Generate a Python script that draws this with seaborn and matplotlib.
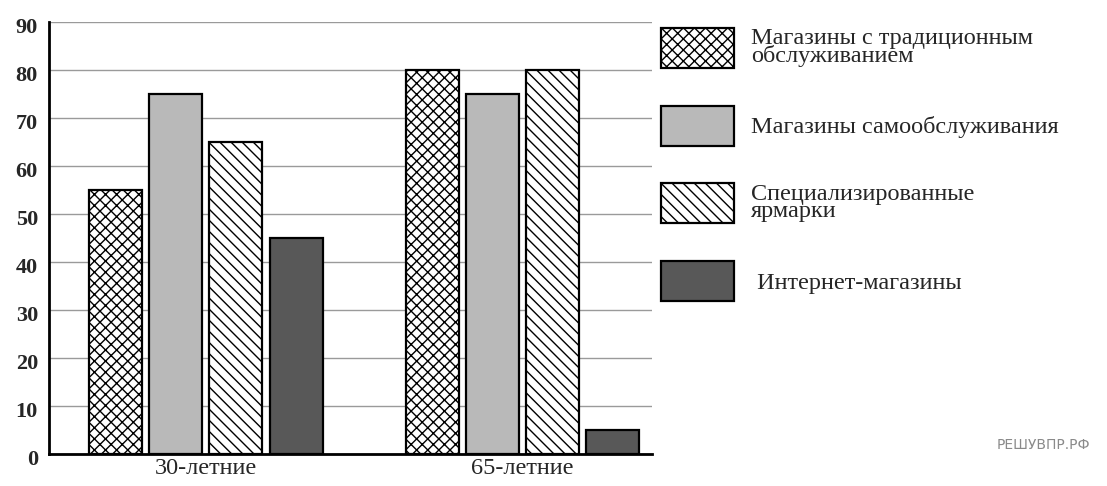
import pandas as pd
import matplotlib
matplotlib.use("Agg")
import matplotlib.pyplot as plt
import matplotlib.transforms as mtransforms
import seaborn as sns
from matplotlib.patches import Patch

# DATA

groups = ["30-летние", "65-летние"]
shop_types = [
    "Магазины с традиционным\nобслуживанием",
    "Магазины самообслуживания",
    "Специализированные\nярмарки",
    " Интернет-магазины",
]
values_30 = [55, 75, 65, 45]
values_65 = [80, 75, 80, 5]
y_ticks = [0, 10, 20, 30, 40, 50, 60, 70, 80, 90]

# styles per shop type
face_colors = ["white", "#b9b9b9", "white", "#585858"]
hatches = ["xxx", "", "\\\\\\", ""]

rows = []
for g, vals in zip(groups, [values_30, values_65]):
    for s, v in zip(shop_types, vals):
        rows.append({"Группа": g, "Тип": s, "Доля": v})
df = pd.DataFrame(rows)

# PLOT

sns.set_theme(style="white")
plt.rcParams["font.family"] = ["Liberation Serif", "DejaVu Serif"]
plt.rcParams["hatch.linewidth"] = 1.0
plt.rcParams["hatch.color"] = "black"

fig = plt.figure(figsize=(11.07, 4.86), dpi=100)
ax = fig.add_axes([0.0443, 0.066, 0.545, 0.889])

sns.barplot(data=df, x="Группа", y="Доля", hue="Тип", hue_order=shop_types,
            order=groups, palette=["white"] * 4, width=0.76, gap=0.12,
            edgecolor="black", linewidth=1.6, legend=False, ax=ax)

for cont, fc, h in zip(ax.containers, face_colors, hatches):
    for bar in cont:
        bar.set_facecolor(fc)
        bar.set_hatch(h)
        bar.set_edgecolor("black")

ax.set_ylim(0, 90)
ax.set_xlim(-0.495, 1.41)
ax.set_yticks(y_ticks)
ax.set_yticklabels([str(t) for t in y_ticks], fontsize=16, fontweight="bold")
ax.tick_params(axis="x", labelsize=17.5, length=0, pad=3)
ax.tick_params(axis="y", length=0, pad=8)
ax.set_xlabel("")
ax.set_ylabel("")
ax.yaxis.grid(True, color="#9a9a9a", linewidth=1.0)
ax.set_axisbelow(True)
for side in ["top", "right"]:
    ax.spines[side].set_visible(False)
for side in ["left", "bottom"]:
    ax.spines[side].set_color("black")
    ax.spines[side].set_linewidth(2.0)

# y labels sit a little below their grid lines in the original
shift = mtransforms.ScaledTranslation(0, -4 / 100, fig.dpi_scale_trans)
for lbl in ax.get_yticklabels():
    lbl.set_transform(lbl.get_transform() + shift)

handles = [Patch(facecolor=fc, edgecolor="black", hatch=h, linewidth=1.6)
           for fc, h in zip(face_colors, hatches)]
leg = fig.legend(handles, shop_types, loc="upper left",
                 bbox_to_anchor=(0.586, 0.968), frameon=False,
                 fontsize=17.5, handlelength=3.0, handleheight=2.15,
                 handletextpad=0.7, labelspacing=1.56, borderpad=0)
for t in leg.get_texts():
    t.set_linespacing(0.78)

fig.text(0.985, 0.085, "РЕШУВПР.РФ", ha="right", va="center", fontsize=10,
         color="#8a8a8a", family=["Liberation Sans Narrow", "DejaVu Sans"])

fig.savefig("out.png", dpi=100)
